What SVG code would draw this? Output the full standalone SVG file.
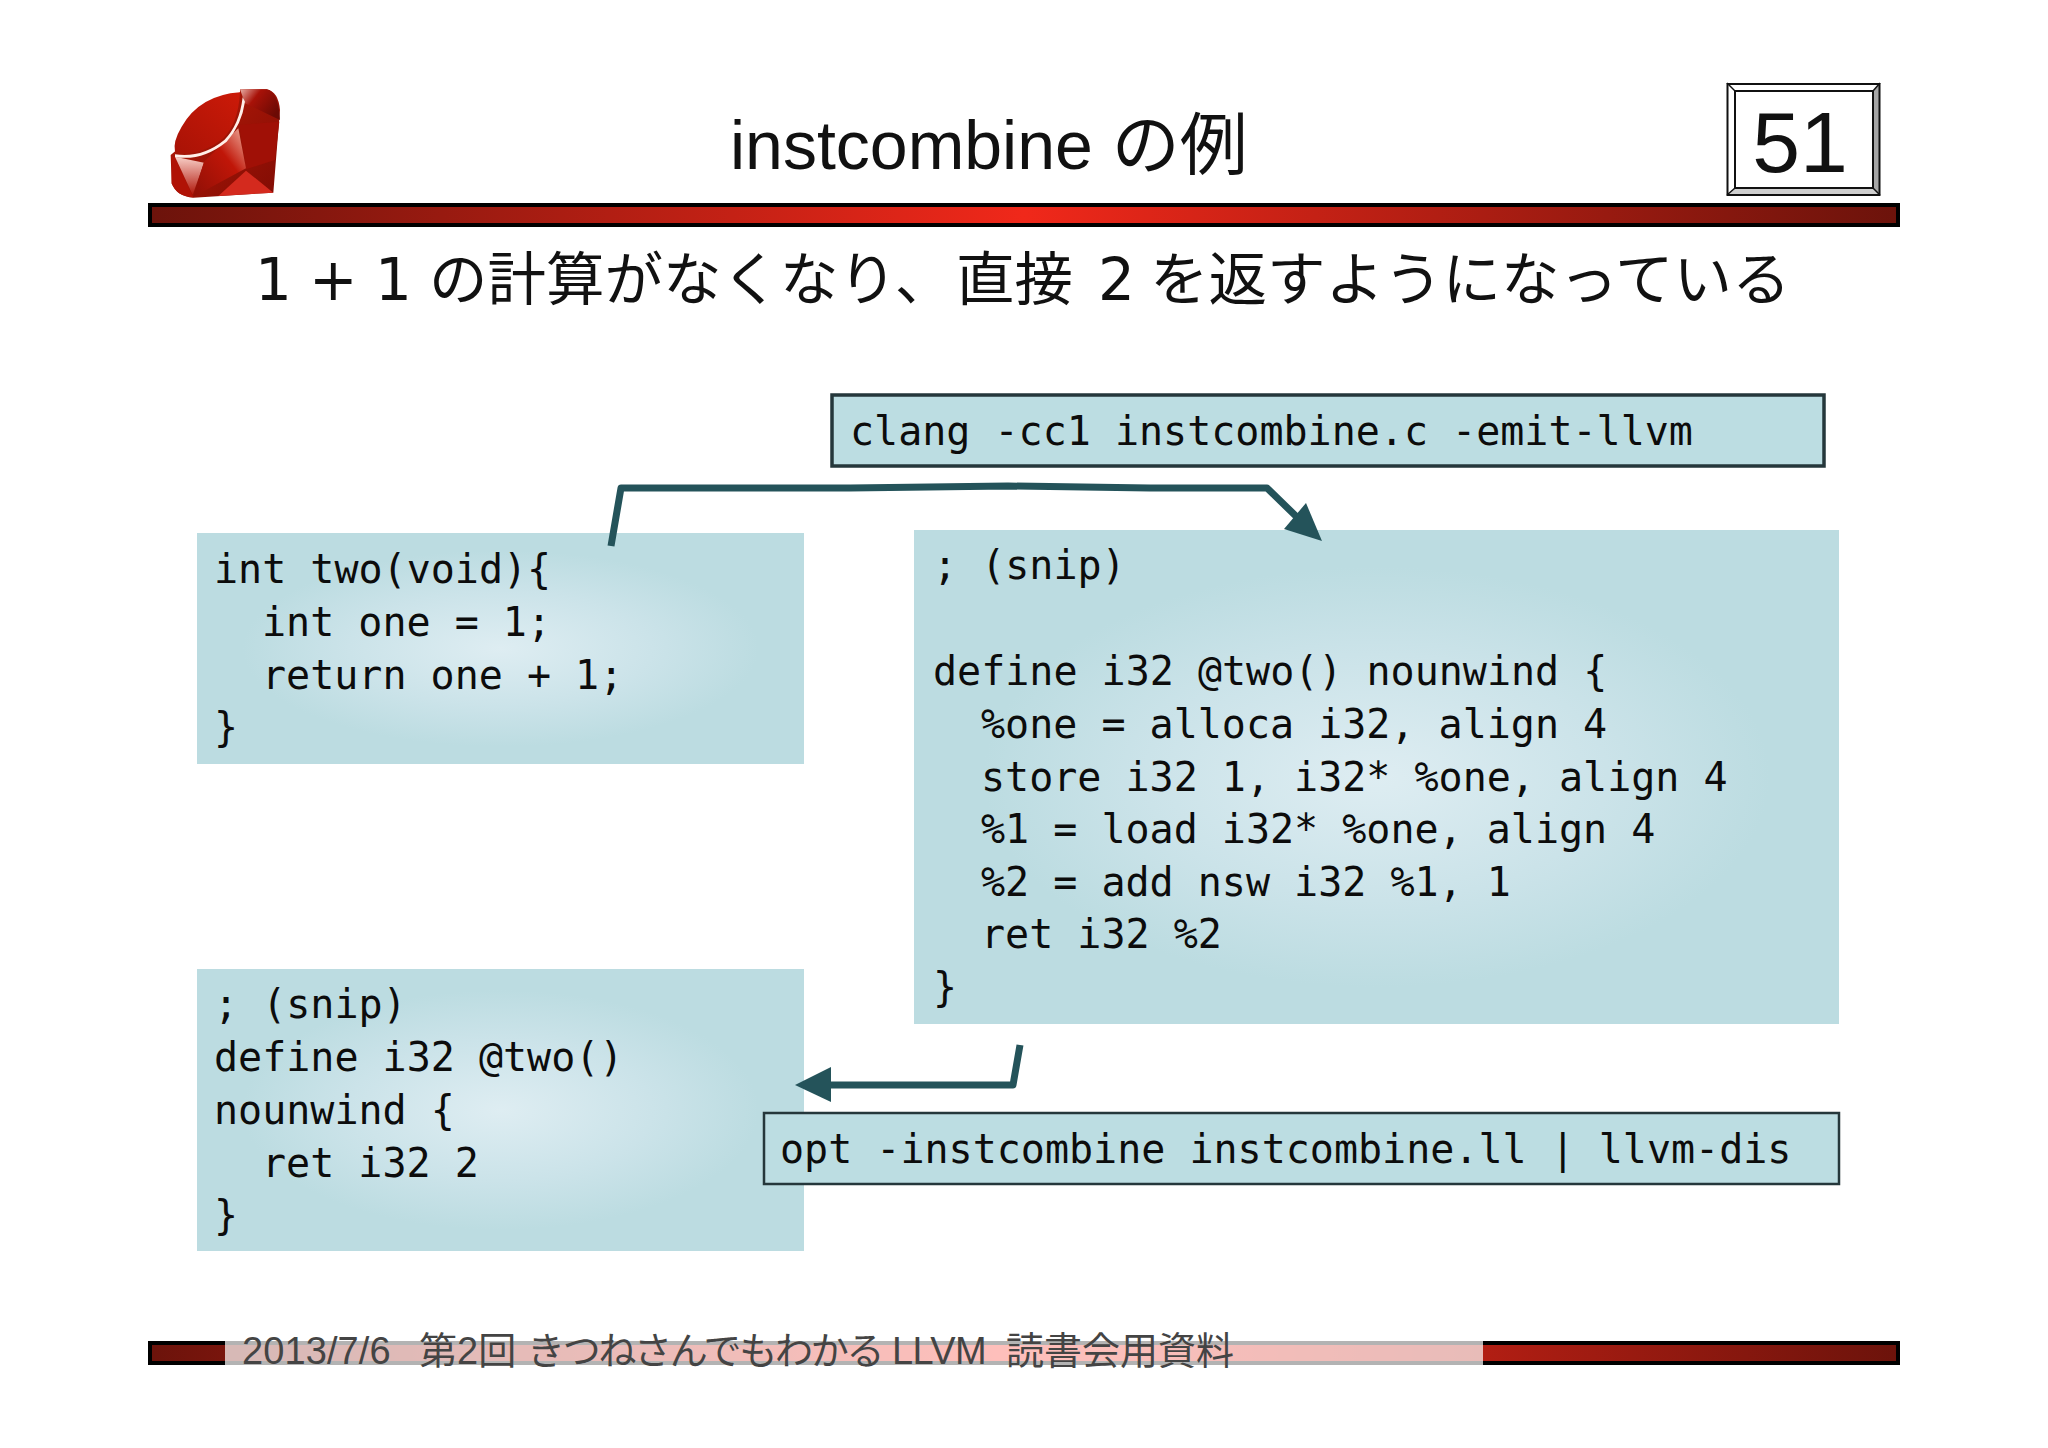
<svg xmlns="http://www.w3.org/2000/svg" width="2048" height="1448" viewBox="0 0 2048 1448">
<style>
.code{font-family:"DejaVu Sans Mono","Liberation Mono",monospace;font-size:40px;fill:#0c0c0c;white-space:pre}
.cmd{fill:#bcdde2;stroke:#25373b;stroke-width:3}
.sans{font-family:"Liberation Sans","Noto Sans CJK JP",sans-serif}
.cjk{font-family:"Noto Sans CJK JP",sans-serif;font-size:58.5px;fill:#111}
.num{font-family:"DejaVu Sans",sans-serif;font-size:58px;fill:#111}
.foot{font-family:"Liberation Sans","Noto Sans CJK JP",sans-serif;font-size:38px;fill:#444}
.conn{fill:none;stroke:#24535a;stroke-width:7;stroke-linejoin:round}
.head{fill:#24535a}
</style>
<defs>
<radialGradient id="box"><stop offset="0" stop-color="#deedf2"/><stop offset="0.5" stop-color="#cbe3e9"/><stop offset="0.85" stop-color="#bcdce1"/></radialGradient>
<linearGradient id="bar"><stop offset="0" stop-color="#6c130b"/><stop offset="0.5" stop-color="#f0281a"/><stop offset="1" stop-color="#6c130b"/></linearGradient>
<linearGradient id="barF"><stop offset="0" stop-color="#6c130b"/><stop offset="0.5" stop-color="#ff2a1c"/><stop offset="1" stop-color="#6c130b"/></linearGradient>
<linearGradient id="rubyA" x1="0" y1="1" x2="1" y2="0"><stop offset="0" stop-color="#8e0f06"/><stop offset="0.6" stop-color="#c01608"/><stop offset="1" stop-color="#f0b0a0"/></linearGradient>
<linearGradient id="rubyB" x1="0" y1="0" x2="1" y2="1"><stop offset="0" stop-color="#b81a08"/><stop offset="1" stop-color="#800c04"/></linearGradient>
<linearGradient id="rubyC" x1="0" y1="0" x2="0" y2="1"><stop offset="0" stop-color="#f8d0c8"/><stop offset="1" stop-color="#b01408"/></linearGradient>
<linearGradient id="rubyT" x1="0" y1="1" x2="1" y2="0"><stop offset="0" stop-color="#a81206"/><stop offset="1" stop-color="#cc1a08"/></linearGradient>
<linearGradient id="rubyD" x1="0" y1="0" x2="1" y2="0.6"><stop offset="0" stop-color="#e8b0a8"/><stop offset="0.4" stop-color="#a81208"/><stop offset="1" stop-color="#6c0a04"/></linearGradient>
</defs>
<rect width="2048" height="1448" fill="#fff"/>

<g id="ruby-logo" transform="translate(130 60) scale(0.3333)">
<path d="M330 88L410 88Q445 95 450 150L430 398L190 413Q140 410 125 370L122 285L140 270L330 97Z" fill="url(#rubyB)"/>
<path d="M330 88L410 88Q445 95 450 180L345 130Z" fill="url(#rubyD)"/>
<path d="M328 195L448 185L435 300L348 328Z" fill="#a01006"/>
<path d="M348 332L430 398L265 408Z" fill="#d42a1e"/>
<path d="M125 290L135 292L190 412Q140 410 125 370Z" fill="#b01206"/>
<path d="M135 290L222 308L188 405Z" fill="url(#rubyC)"/>
<path d="M222 305L325 205L348 325L190 410Z" fill="url(#rubyA)"/>
<path d="M330 97Q210 105 155 200Q128 245 135 275Q205 295 280 235Q325 190 330 97Z" fill="url(#rubyT)"/>
<path d="M135 283Q215 295 283 240Q328 195 338 112L345 125Q335 195 290 245Q215 305 135 291Z" fill="#ffeee8"/>
</g>

<g id="title"><text class="sans" x="730" y="169" font-size="68" fill="#111">instcombine の例</text></g>

<g id="page-number">
<rect x="1727" y="83" width="153" height="112" fill="#fff"/>
<polygon points="1880,83 1873,91 1873,188 1880,195" fill="#a6a6a6"/>
<polygon points="1727,195 1735,188 1873,188 1880,195" fill="#cfcfcf"/>
<rect x="1727.5" y="84" width="152" height="111" fill="none" stroke="#111" stroke-width="2"/>
<rect x="1735" y="91" width="138" height="97" fill="none" stroke="#111" stroke-width="2"/>
<line x1="1727" y1="83" x2="1735" y2="91" stroke="#111" stroke-width="1.5"/><line x1="1880" y1="83" x2="1873" y2="91" stroke="#111" stroke-width="1.5"/><line x1="1727" y1="195" x2="1735" y2="188" stroke="#111" stroke-width="1.5"/><line x1="1880" y1="195" x2="1873" y2="188" stroke="#111" stroke-width="1.5"/>
<text class="sans" x="1800" y="172" font-size="86" text-anchor="middle" fill="#111">51</text>
</g>

<g id="top-bar"><rect x="150" y="205" width="1748" height="20" fill="url(#bar)" stroke="#000" stroke-width="4"/></g>

<g id="subtitle">
<text class="num" x="255" y="300">1</text><text class="num" x="309" y="300">+</text><text class="num" x="375" y="300">1</text><text class="num" x="1098" y="300">2</text>
<text class="cjk" x="429" y="300">の計算がなくなり、</text>
<text class="cjk" x="956" y="300">直接</text>
<text class="cjk" x="1150" y="300">を返すようになっている</text>
</g>

<g id="clang-cmd"><rect class="cmd" x="832" y="395" width="992" height="71" style="stroke-width:3.5"/><text class="code" x="850" y="445">clang -cc1 instcombine.c -emit-llvm</text></g>

<g id="source-box"><rect x="197" y="533" width="607" height="231" fill="url(#box)"/>
<text class="code" x="214" y="583">int two(void){</text><text class="code" x="262" y="636">int one = 1;</text><text class="code" x="262" y="689">return one + 1;</text><text class="code" x="214" y="741">}</text></g>

<g id="ir-box"><rect x="914" y="530" width="925" height="494" fill="url(#box)"/>
<text class="code" x="933" y="579">; (snip)</text>
<text class="code" x="933" y="685">define i32 @two() nounwind {</text>
<text class="code" x="981" y="738">%one = alloca i32, align 4</text>
<text class="code" x="981" y="791">store i32 1, i32* %one, align 4</text>
<text class="code" x="981" y="843">%1 = load i32* %one, align 4</text>
<text class="code" x="981" y="896">%2 = add nsw i32 %1, 1</text>
<text class="code" x="981" y="948">ret i32 %2</text>
<text class="code" x="933" y="1001">}</text></g>

<g id="optimized-box"><rect x="197" y="969" width="607" height="282" fill="url(#box)"/>
<text class="code" x="214" y="1018">; (snip)</text><text class="code" x="214" y="1071">define i32 @two()</text><text class="code" x="214" y="1124">nounwind {</text><text class="code" x="262" y="1177">ret i32 2</text><text class="code" x="214" y="1229">}</text></g>

<g id="opt-cmd"><rect class="cmd" x="764" y="1113" width="1075" height="71" style="stroke-width:2.5"/><text class="code" x="780" y="1163">opt -instcombine instcombine.ll | llvm-dis</text></g>

<g id="connectors">
<path class="conn" d="M611 546L621 488L850 488L1008 486L1150 488L1267 488L1302 522"/>
<polygon class="head" points="1322,541 1284,529 1306,503"/>
<path class="conn" d="M1020 1045L1013 1085L825 1085"/>
<polygon class="head" points="795,1085 831,1067 831,1102"/>
</g>

<g id="footer">
<rect x="150" y="1343" width="1748" height="20" fill="url(#barF)" stroke="#000" stroke-width="4"/>
<rect x="225" y="1340" width="1258" height="25" fill="#fff" fill-opacity="0.7"/>
<text class="foot" x="242" y="1364" style="letter-spacing:0.1px">2013/7/6</text>
<text class="foot" x="419" y="1364">第2回</text>
<text class="foot" x="527" y="1364"><tspan style="letter-spacing:-2.3px">きつねさんでもわかる</tspan><tspan x="892" style="letter-spacing:-0.6px">LLVM</tspan></text>
<text class="foot" x="1006" y="1364">読書会用資料</text>
</g>
</svg>
